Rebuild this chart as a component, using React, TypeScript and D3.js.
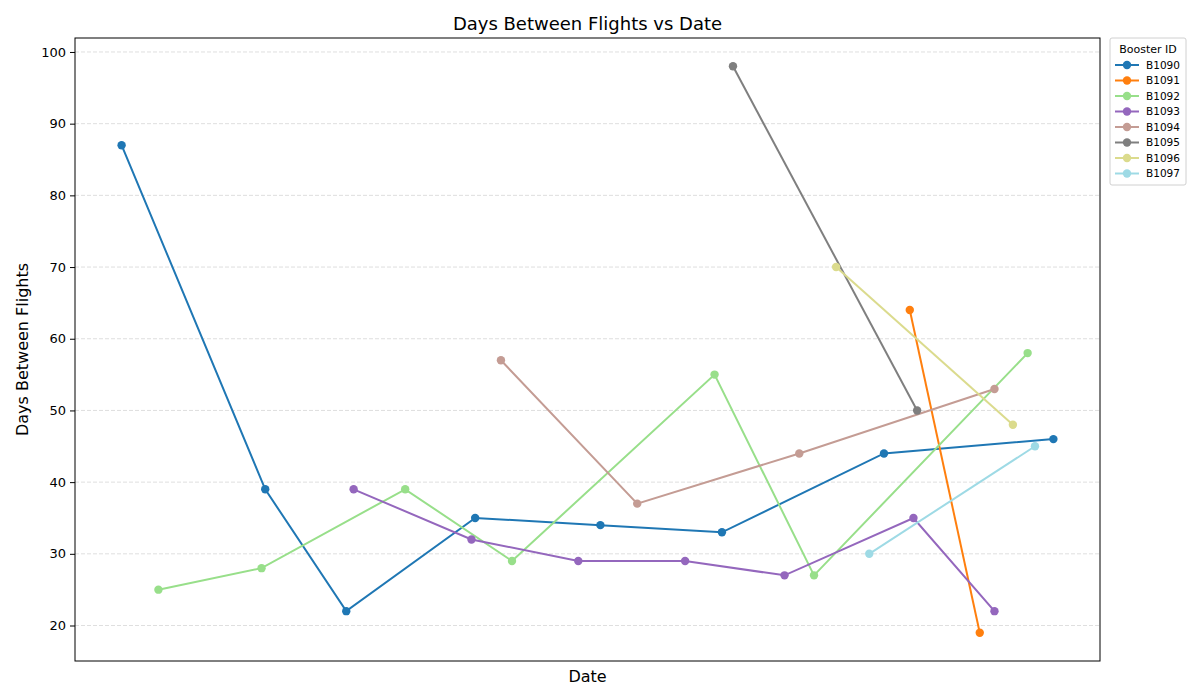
import { useEffect, useRef } from 'react';
import * as d3 from 'd3';

// flight dates per booster and days since previous flight
const boosters = ['B1090', 'B1091', 'B1092', 'B1093', 'B1094', 'B1095', 'B1096', 'B1097'];
const colors = ['#1f77b4', '#ff7f0e', '#98df8a', '#9467bd', '#c49c94', '#7f7f7f', '#dbdb8d', '#9edae5'];

const b1090Dates = ['2024-01-01', '2024-02-09', '2024-03-02', '2024-04-06', '2024-05-10', '2024-06-12', '2024-07-26', '2024-09-10'];
const b1090Days = [87, 39, 22, 35, 34, 33, 44, 46];
const b1091Dates = ['2024-08-02', '2024-08-21'];
const b1091Days = [64, 19];
const b1092Dates = ['2024-01-11', '2024-02-08', '2024-03-18', '2024-04-16', '2024-06-10', '2024-07-07', '2024-09-03'];
const b1092Days = [25, 28, 39, 29, 55, 27, 58];
const b1093Dates = ['2024-03-04', '2024-04-05', '2024-05-04', '2024-06-02', '2024-06-29', '2024-08-03', '2024-08-25'];
const b1093Days = [39, 32, 29, 29, 27, 35, 22];
const b1094Dates = ['2024-04-13', '2024-05-20', '2024-07-03', '2024-08-25'];
const b1094Days = [57, 37, 44, 53];
const b1095Dates = ['2024-06-15', '2024-08-04'];
const b1095Days = [98, 50];
const b1096Dates = ['2024-07-13', '2024-08-30'];
const b1096Days = [70, 48];
const b1097Dates = ['2024-07-22', '2024-09-05'];
const b1097Days = [30, 45];

const yTicks = [20, 30, 40, 50, 60, 70, 80, 90, 100];

const parse = d3.timeParse('%Y-%m-%d');
const seriesDates = [b1090Dates, b1091Dates, b1092Dates, b1093Dates, b1094Dates, b1095Dates, b1096Dates, b1097Dates];
const seriesDays = [b1090Days, b1091Days, b1092Days, b1093Days, b1094Days, b1095Days, b1096Days, b1097Days];

export default function App() {
  const svgRef = useRef<SVGSVGElement>(null);

  useEffect(() => {
    document.body.style.margin = '0';
    if (!svgRef.current) return;

    const width = 1200;
    const height = 700;
    const margin = { top: 38, right: 100, bottom: 39, left: 75 };
    const font = 'DejaVu Sans, sans-serif';

    const svg = d3.select(svgRef.current);
    svg.selectAll('*').remove();

    const data = boosters.map((id, i) => ({
      id,
      color: colors[i],
      points: seriesDates[i].map((d, j) => ({ date: parse(d) as Date, days: seriesDays[i][j] })),
    }));

    const allPts = data.flatMap(s => s.points);
    const [xMin, xMax] = d3.extent(allPts, p => p.date.getTime()) as [number, number];
    const xPad = (xMax - xMin) * 0.05;
    const [yMin, yMax] = d3.extent(allPts, p => p.days) as [number, number];
    const yPad = (yMax - yMin) * 0.05;

    const x = d3.scaleTime()
      .domain([new Date(xMin - xPad), new Date(xMax + xPad)])
      .range([margin.left, width - margin.right]);
    const y = d3.scaleLinear()
      .domain([yMin - yPad, yMax + yPad])
      .range([height - margin.bottom, margin.top]);

    // 网格线
    svg.append('g')
      .selectAll('line')
      .data(yTicks)
      .enter()
      .append('line')
      .attr('x1', margin.left)
      .attr('x2', width - margin.right)
      .attr('y1', d => y(d))
      .attr('y2', d => y(d))
      .attr('stroke', '#b0b0b0')
      .attr('stroke-opacity', 0.5)
      .attr('stroke-width', 0.8)
      .attr('stroke-dasharray', '4,2');

    // y axis
    const yAxis = svg.append('g')
      .attr('transform', `translate(${margin.left},0)`)
      .call(d3.axisLeft(y).tickValues(yTicks).tickSize(5).tickPadding(4));
    yAxis.select('.domain').remove();
    yAxis.selectAll('text').attr('font-family', font).attr('font-size', 13).attr('fill', '#000');
    yAxis.selectAll('line').attr('stroke', '#000');

    const line = d3.line<{ date: Date; days: number }>()
      .x(p => x(p.date))
      .y(p => y(p.days));

    data.forEach(s => {
      const g = svg.append('g');
      g.append('path')
        .attr('d', line(s.points))
        .attr('fill', 'none')
        .attr('stroke', s.color)
        .attr('stroke-width', 2);
      g.selectAll('circle')
        .data(s.points)
        .enter()
        .append('circle')
        .attr('cx', p => x(p.date))
        .attr('cy', p => y(p.days))
        .attr('r', 4.2)
        .attr('fill', s.color);
    });

    // frame
    svg.append('rect')
      .attr('x', margin.left)
      .attr('y', margin.top)
      .attr('width', width - margin.left - margin.right)
      .attr('height', height - margin.top - margin.bottom)
      .attr('fill', 'none')
      .attr('stroke', '#000')
      .attr('stroke-width', 1);

    svg.append('text')
      .attr('x', (margin.left + width - margin.right) / 2)
      .attr('y', 30)
      .attr('text-anchor', 'middle')
      .attr('font-family', font)
      .attr('font-size', 18)
      .text('Days Between Flights vs Date');

    svg.append('text')
      .attr('x', (margin.left + width - margin.right) / 2)
      .attr('y', 682)
      .attr('text-anchor', 'middle')
      .attr('font-family', font)
      .attr('font-size', 16)
      .text('Date');

    svg.append('text')
      .attr('transform', `translate(28,${(margin.top + height - margin.bottom) / 2}) rotate(-90)`)
      .attr('text-anchor', 'middle')
      .attr('font-family', font)
      .attr('font-size', 16)
      .text('Days Between Flights');

    // 图例
    const lg = svg.append('g').attr('transform', 'translate(1110,38)');
    lg.append('rect')
      .attr('width', 76)
      .attr('height', 147)
      .attr('rx', 2)
      .attr('fill', '#fff')
      .attr('stroke', '#d0d0d0');
    lg.append('text')
      .attr('x', 38)
      .attr('y', 15)
      .attr('text-anchor', 'middle')
      .attr('font-family', font)
      .attr('font-size', 11)
      .text('Booster ID');
    data.forEach((s, i) => {
      const ty = 27 + i * 15.5;
      lg.append('line')
        .attr('x1', 5).attr('x2', 29)
        .attr('y1', ty).attr('y2', ty)
        .attr('stroke', s.color).attr('stroke-width', 2);
      lg.append('circle')
        .attr('cx', 17).attr('cy', ty).attr('r', 4.2)
        .attr('fill', s.color);
      lg.append('text')
        .attr('x', 36)
        .attr('y', ty + 3.8)
        .attr('font-family', font)
        .attr('font-size', 10.5)
        .text(s.id);
    });
  }, []);

  return <svg ref={svgRef} width={1200} height={700} style={{ display: 'block', background: '#fff' }} />;
}
